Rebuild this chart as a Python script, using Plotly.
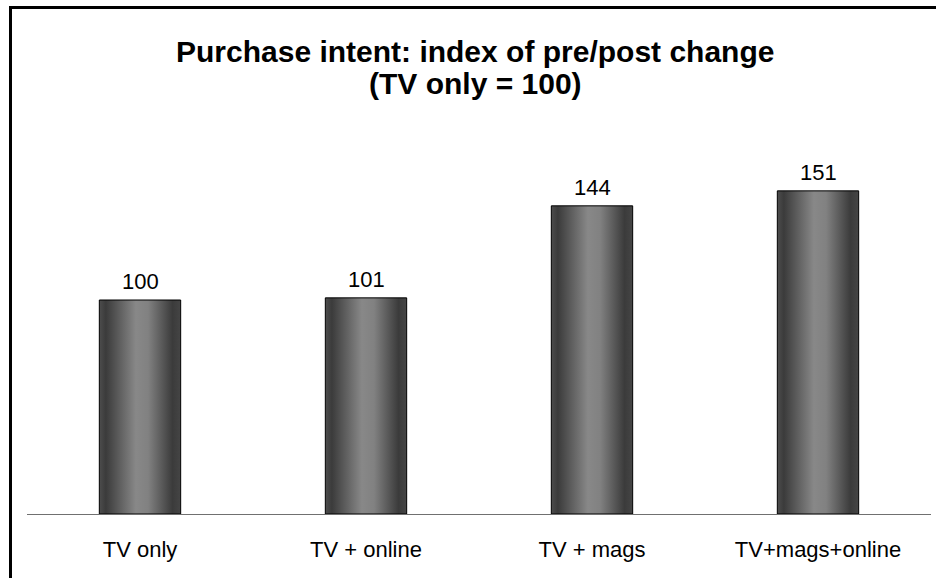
import plotly.graph_objects as go

categories = ["TV only", "TV + online", "TV + mags", "TV+mags+online"]
values = [100, 101, 144, 151]
title_line1 = "Purchase intent: index of pre/post change"
title_line2 = "(TV only = 100)"

BAR_W = 0.36
FONT = "Liberation Sans, Arial, sans-serif"
grad = [[0.0, "#4d4d4d"], [0.08, "#3b3b3b"], [0.45, "#888888"], [0.6, "#818181"],
        [0.9, "#3b3b3b"], [1.0, "#454545"]]

fig = go.Figure()
for i, (c, v) in enumerate(zip(categories, values)):
    x0, x1 = i - BAR_W / 2, i + BAR_W / 2
    fig.add_trace(go.Scatter(
        x=[x0, x0, x1, x1, x0], y=[0, v, v, 0, 0],
        mode="lines", fill="toself",
        fillgradient=dict(type="horizontal", colorscale=grad),
        line=dict(color="black", width=1),
        hoverinfo="skip", showlegend=False,
    ))
    fig.add_annotation(x=i, y=v, text=str(v), showarrow=False,
                       yanchor="bottom", yshift=4,
                       font=dict(family=FONT, size=22, color="black"))

fig.add_annotation(xref="paper", yref="paper", x=0.496, y=(514 - 62) / 428,
                   text="<b>" + title_line1 + "</b>", showarrow=False,
                   yanchor="bottom", yshift=-8,
                   font=dict(family=FONT, size=30, color="black"))
fig.add_annotation(xref="paper", yref="paper", x=0.496, y=(514 - 94) / 428,
                   text="<b>" + title_line2 + "</b>", showarrow=False,
                   yanchor="bottom", yshift=-8,
                   font=dict(family=FONT, size=30, color="black"))

# outer frame
fig.add_shape(type="rect", xref="paper", yref="paper",
              x0=(10.5 - 27) / 904, x1=(960 - 27) / 904,
              y0=(514 - 600) / 428, y1=(514 - 7.5) / 428,
              line=dict(color="black", width=3), fillcolor="rgba(0,0,0,0)")

fig.update_layout(
    width=936, height=578,
    margin=dict(l=27, r=5, t=86, b=64),
    paper_bgcolor="white", plot_bgcolor="white",
    font=dict(family=FONT, size=22, color="black"),
    showlegend=False,
)
fig.update_xaxes(range=[-0.5, len(categories) - 0.5],
                 tickvals=list(range(len(categories))), ticktext=categories,
                 showgrid=False, zeroline=False,
                 showline=True, linecolor="#707070", linewidth=1,
                 ticks="outside", ticklen=16, tickcolor="rgba(0,0,0,0)",
                 tickfont=dict(family=FONT, size=22, color="black"))
fig.update_yaxes(range=[0, 200], visible=False)

fig.write_html("out.html", config={"displayModeBar": False},
               post_script="document.body.style.margin='0';document.body.style.overflow='hidden';")
